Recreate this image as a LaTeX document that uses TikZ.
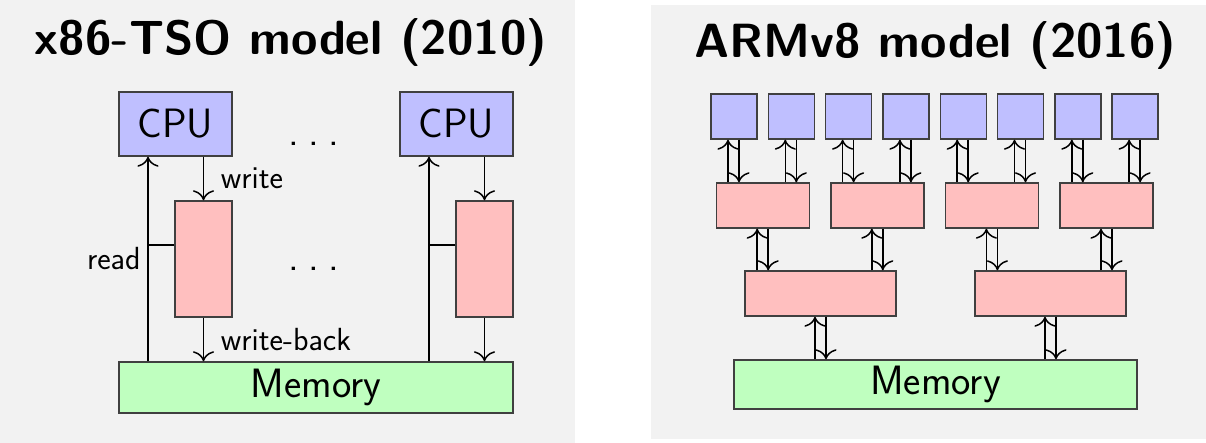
\documentclass[tikz,border=0pt]{standalone}
\usepackage{tikz}
\usetikzlibrary{arrows.meta}

\definecolor{panelgray}{gray}{0.95}

\tikzset{
  box/.style={rectangle, draw=black!75, line width=0.7pt, inner sep=0pt},
  cpu/.style={box, fill=blue!25},
  buf/.style={box, fill=red!25},
  mem/.style={box, fill=green!25},
  wire/.style={-{To[scale=1.55]}, line width=0.75pt},
  title/.style={font=\sffamily\bfseries\fontsize{24}{28}\selectfont, anchor=base},
  bigtext/.style={font=\sffamily\fontsize{20.5}{24}\selectfont},
  lbl/.style={font=\sffamily\fontsize{16}{19}\selectfont},
}
\newcommand{\wideDots}{.\kern4.8pt.\kern4.8pt.}

\begin{document}
\begin{tikzpicture}[x=0.5pt,y=-0.5pt]
\useasboundingbox (0,0) rectangle (1206,443);
\fill[panelgray] (0,0) rectangle (575,443);
\fill[panelgray] (651,5) rectangle (1206,439);

% x86-TSO
\node[title] (tsoTitle) at (291,55) {x86-TSO model (2010)};
\node[cpu, bigtext, minimum width=56.5pt, minimum height=32pt] (cpuA) at (175.5,124) {CPU};
\node[cpu, bigtext, minimum width=56.5pt, minimum height=32pt] (cpuB) at (456.5,124) {CPU};
\node[buf, minimum width=28.5pt, minimum height=58pt] (bufA) at (203.5,259) {};
\node[buf, minimum width=28.5pt, minimum height=58pt] (bufB) at (484.5,259) {};
\node[mem, bigtext, minimum width=197pt, minimum height=25.5pt] (memA) at (316,387.5) {Memory};
\node[bigtext, anchor=base] (dotsTop) at (314,146) {\wideDots};
\node[bigtext, anchor=base] (dotsMid) at (314,271) {\wideDots};

\coordinate (rdA) at (148,0);
\coordinate (rdB) at (429,0);
\coordinate (br) at (0,245);

\draw[wire] (memA.north -| rdA) -- (cpuA.south -| rdA) node[lbl, midway, left] {read};
\draw[wire] (cpuA.south -| bufA.north) -- (bufA.north) node[lbl, midway, right, xshift=5pt] {write};
\draw[wire] (bufA.south) -- (memA.north -| bufA.south) node[lbl, midway, right, xshift=5pt] {write-back};
\draw[line width=0.75pt] (bufA.west |- br) -- (rdA |- br);

\draw[wire] (memA.north -| rdB) -- (cpuB.south -| rdB);
\draw[wire] (cpuB.south -| bufB.north) -- (bufB.north);
\draw[wire] (bufB.south) -- (memA.north -| bufB.south);
\draw[line width=0.75pt] (bufB.west |- br) -- (rdB |- br);

% ARMv8
\node[title] (armTitle) at (935.5,58) {ARMv8 model (2016)};
\foreach \i in {0,...,7}
  \node[cpu, minimum width=23pt, minimum height=22.5pt] (core\i) at (734+57.3*\i,116.5) {};
\foreach \j in {0,...,3}
  \node[buf, minimum width=46.5pt, minimum height=22.5pt] (lone\j) at (762.7+114.6*\j,205.5) {};
\foreach \k in {0,1}
  \node[buf, minimum width=75.5pt, minimum height=22.5pt] (ltwo\k) at (820.5+230*\k,293.5) {};
\node[mem, bigtext, minimum width=201.5pt, minimum height=24.5pt] (memB) at (935.5,384.5) {Memory};

\foreach \i in {0,...,7} {
  \pgfmathtruncatemacro\p{\i/2}
  \coordinate (up) at ([xshift=-3pt]core\i.south);
  \coordinate (dn) at ([xshift=2.5pt]core\i.south);
  \draw[wire] (up |- lone\p.north) -- (up);
  \draw[wire] (dn) -- (dn |- lone\p.north);
}
\foreach \j in {0,...,3} {
  \pgfmathtruncatemacro\p{\j/2}
  \coordinate (up) at ([xshift=-2.75pt]lone\j.south);
  \coordinate (dn) at ([xshift=2.75pt]lone\j.south);
  \draw[wire] (up |- ltwo\p.north) -- (up);
  \draw[wire] (dn) -- (dn |- ltwo\p.north);
}
\foreach \k in {0,1} {
  \coordinate (up) at ([xshift=-2.75pt]ltwo\k.south);
  \coordinate (dn) at ([xshift=2.75pt]ltwo\k.south);
  \draw[wire] (up |- memB.north) -- (up);
  \draw[wire] (dn) -- (dn |- memB.north);
}
\end{tikzpicture}
\end{document}
